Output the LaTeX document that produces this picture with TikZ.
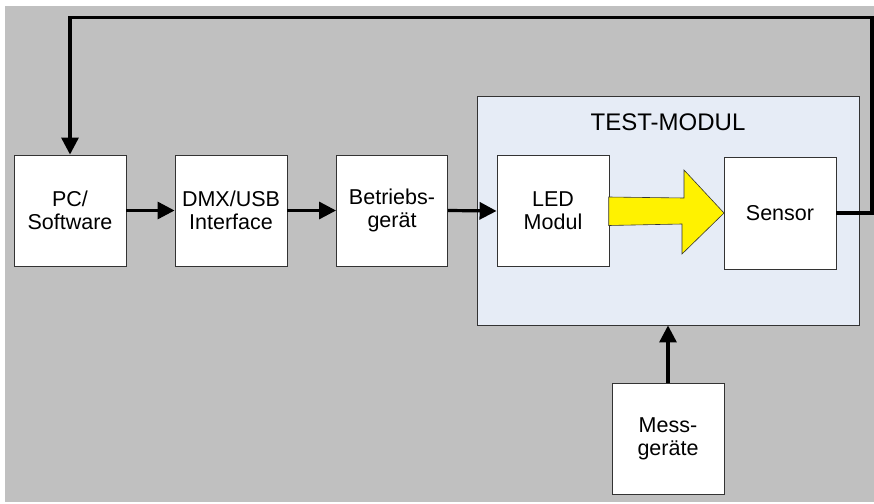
\documentclass[tikz,border=0pt]{standalone}
\usepackage{fontspec}
\setmainfont{Liberation Sans}
\usetikzlibrary{arrows.meta}
\definecolor{panelgray}{HTML}{C0C0C0}
\definecolor{modulefill}{HTML}{E6ECF6}
\definecolor{edgegray}{HTML}{333333}
\begin{document}
\begin{tikzpicture}[x=1pt,y=-1pt,
  box/.style={draw=edgegray, line width=0.9pt, fill=white, minimum width=112pt,
    minimum height=111pt, align=center, inner sep=0pt,
    font=\fontsize{21.5}{23}\selectfont},
  conn/.style={line width=3.2pt, line join=miter,
    -{Triangle[length=17pt,width=17pt]}}]
  % canvas
  \useasboundingbox (0,0) rectangle (874,503);
  \fill[white] (0,0) rectangle (874,503);
  \fill[panelgray] (5,6) rectangle (874,502);

  % test module frame
  \node[draw=edgegray, line width=0.9pt, fill=modulefill, minimum width=382pt,
    minimum height=229pt, inner sep=0pt] (tm) at (668,210.5) {};
  \node[font=\fontsize{24}{26}\selectfont] (tmlabel) at (668,122) {TEST-MODUL};

  % blocks
  \node[box] (pc) at (70,210.5) {PC/\\Software};
  \node[box] (dmx) at (231,210.5) {DMX/USB\\Interface};
  \node[box, minimum width=111pt] (bg) at (392,210.5) {Betriebs-\\gerät};
  \node[box] (led) at (553,211) {LED\\Modul};
  \node[box, minimum height=112pt] (sen) at (780,213) {Sensor};
  \node[box] (mess) at (668,438.5) {Mess-\\geräte};

  % light beam from LED to sensor
  \draw[draw=edgegray, line width=0.6pt, fill=yellow, line join=miter]
    (608.7,197) -- (684,198) -- (684,170) -- (724,213) -- (682,254)
    -- (682,224) -- (608.7,225.5) -- cycle;

  % signal chain
  \draw[conn] (pc.east) -- (dmx.west);
  \draw[conn] (dmx.east) -- (bg.west);
  \draw[conn] (bg.east) -- (led.west);
  \draw[conn] (mess.north) -- (tm.south);

  % feedback from sensor to PC
  \coordinate (fbR) at (872,17.5);
  \coordinate (fbL) at (70,17.5);
  \draw[conn] (sen.east) -| (fbR) -- (fbL) -- (pc.north);
\end{tikzpicture}
\end{document}
